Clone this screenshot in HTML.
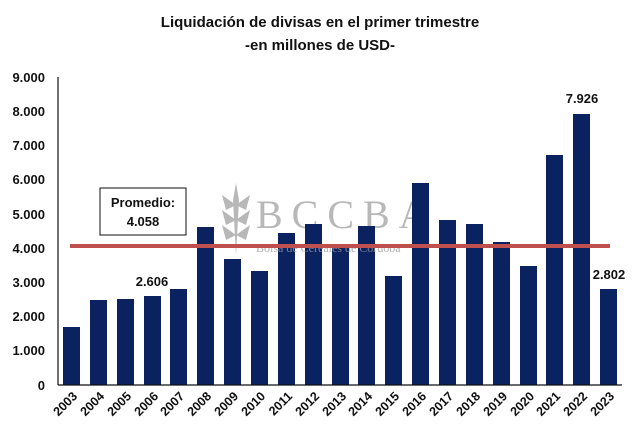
<!DOCTYPE html>
<html><head><meta charset="utf-8"><style>
html,body{margin:0;padding:0;background:#fff;}
svg{display:block;}
.s{font-family:"Liberation Sans",sans-serif;}
.w{font-family:"Liberation Serif",serif;}
</style></head><body>
<svg width="640" height="440" viewBox="0 0 640 440" xmlns="http://www.w3.org/2000/svg">
<g class="s">
<text x="320" y="27" text-anchor="middle" font-size="15" font-weight="bold" fill="#111">Liquidación de divisas en el primer trimestre</text>
<text x="320" y="50" text-anchor="middle" font-size="15" font-weight="bold" fill="#111">-en millones de USD-</text>
<g font-size="13" font-weight="bold" fill="#111" text-anchor="end">
<text x="45" y="82">9.000</text><text x="45" y="116">8.000</text><text x="45" y="150">7.000</text>
<text x="45" y="184">6.000</text><text x="45" y="219">5.000</text><text x="45" y="253">4.000</text>
<text x="45" y="287">3.000</text><text x="45" y="321">2.000</text><text x="45" y="355">1.000</text>
<text x="45" y="390">0</text>
</g>
</g>
<g fill="#b8b8b8">
<text class="w" x="256" y="228" font-size="40" letter-spacing="9">BCCBA</text>
<path d="M236 183 L239 200 L236 255 L233 200Z"/>
<path d="M236 205 L222 195 L226 210Z M236 220 L222 210 L226 225Z M236 235 L222 225 L226 240Z M236 205 L250 195 L246 210Z M236 220 L250 210 L246 225Z M236 235 L250 225 L246 240Z"/>
</g>
<g fill="#0b2260">
<rect x="63" y="327" width="17" height="58"/>
<rect x="90" y="300" width="17" height="85"/>
<rect x="117" y="299" width="17" height="86"/>
<rect x="144" y="296" width="17" height="89"/>
<rect x="170" y="289" width="17" height="96"/>
<rect x="197" y="227" width="17" height="158"/>
<rect x="224" y="259" width="17" height="126"/>
<rect x="251" y="271" width="17" height="114"/>
<rect x="278" y="233" width="17" height="152"/>
<rect x="305" y="224" width="17" height="161"/>
<rect x="332" y="248" width="17" height="137"/>
<rect x="358" y="226" width="17" height="159"/>
<rect x="385" y="276" width="17" height="109"/>
<rect x="412" y="183" width="17" height="202"/>
<rect x="439" y="220" width="17" height="165"/>
<rect x="466" y="224" width="17" height="161"/>
<rect x="493" y="242" width="17" height="143"/>
<rect x="520" y="266" width="17" height="119"/>
<rect x="546" y="155" width="17" height="230"/>
<rect x="573" y="114" width="17" height="271"/>
<rect x="600" y="289" width="17" height="96"/>
</g>
<text class="w" x="256" y="252" font-size="12" fill="#9a9a9a" fill-opacity="0.8">Bolsa de Cereales de Córdoba</text>
<line x1="70" y1="246" x2="610" y2="246" stroke="#c0504d" stroke-width="4"/>
<line x1="58" y1="77" x2="58" y2="385" stroke="#111" stroke-width="1.2"/>
<line x1="58" y1="385" x2="622" y2="385" stroke="#111" stroke-width="1.2"/>
<rect x="100" y="188" width="86" height="47" fill="#fff" stroke="#111" stroke-width="1"/>
<g class="s" font-size="13" font-weight="bold" fill="#111" text-anchor="middle">
<text x="143" y="207">Promedio:</text><text x="143" y="226">4.058</text>
<text x="152" y="286">2.606</text>
<text x="582" y="103">7.926</text>
<text x="609" y="279">2.802</text>
</g>
<g class="s" font-size="12.5" font-weight="bold" fill="#111" text-anchor="end">
<text transform="translate(78,397) rotate(-45)">2003</text>
<text transform="translate(105,397) rotate(-45)">2004</text>
<text transform="translate(132,397) rotate(-45)">2005</text>
<text transform="translate(159,397) rotate(-45)">2006</text>
<text transform="translate(185,397) rotate(-45)">2007</text>
<text transform="translate(212,397) rotate(-45)">2008</text>
<text transform="translate(239,397) rotate(-45)">2009</text>
<text transform="translate(266,397) rotate(-45)">2010</text>
<text transform="translate(293,397) rotate(-45)">2011</text>
<text transform="translate(320,397) rotate(-45)">2012</text>
<text transform="translate(347,397) rotate(-45)">2013</text>
<text transform="translate(373,397) rotate(-45)">2014</text>
<text transform="translate(400,397) rotate(-45)">2015</text>
<text transform="translate(427,397) rotate(-45)">2016</text>
<text transform="translate(454,397) rotate(-45)">2017</text>
<text transform="translate(481,397) rotate(-45)">2018</text>
<text transform="translate(508,397) rotate(-45)">2019</text>
<text transform="translate(535,397) rotate(-45)">2020</text>
<text transform="translate(561,397) rotate(-45)">2021</text>
<text transform="translate(588,397) rotate(-45)">2022</text>
<text transform="translate(615,397) rotate(-45)">2023</text>
</g>
</svg>
</body></html>
